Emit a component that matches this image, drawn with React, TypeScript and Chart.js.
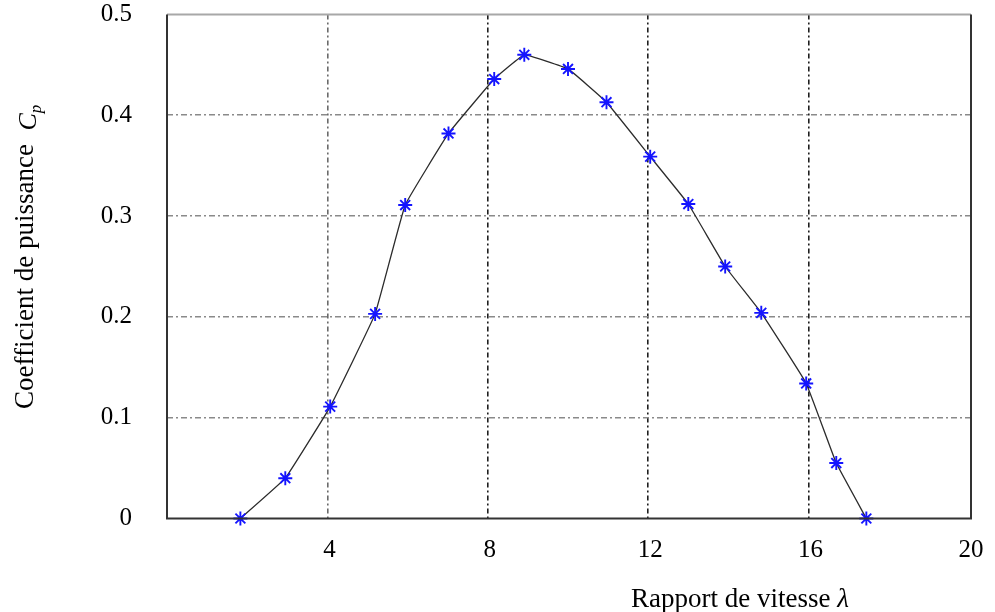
import React, { useEffect, useRef } from 'react';
import { Chart, registerables } from 'chart.js';

Chart.register(...registerables);

// ---- data ----
const lambdaValues = [1.83, 2.95, 4.07, 5.19, 5.94, 7.02, 8.16, 8.91, 10.0, 10.96, 12.05, 13.0, 13.92, 14.82, 15.94, 16.69, 17.44];
const cpValues = [0, 0.04, 0.111, 0.203, 0.311, 0.382, 0.436, 0.46, 0.446, 0.413, 0.359, 0.312, 0.25, 0.204, 0.134, 0.055, 0];

const xTickValues = [4, 8, 12, 16, 20];
const xTickLabels = ['4', '8', '12', '16', '20'];
const yTickValues = [0, 0.1, 0.2, 0.3, 0.4, 0.5];
const yTickLabels = ['0', '0.1', '0.2', '0.3', '0.4', '0.5'];

const xTitleText = 'Rapport de vitesse ';
const xTitleSymbol = 'λ';
const yTitleText = 'Coefficient de puissance  ';
const yTitleSymbol = 'C';
const yTitleSub = 'p';

const FONT = '"Liberation Serif", "Times New Roman", serif';

const decorPlugin = {
  id: 'decor',
  afterDraw(chart: any) {
    const { ctx, chartArea: a } = chart;
    ctx.save();
    // frame
    ctx.lineWidth = 2;
    ctx.strokeStyle = '#a8a8a8';
    ctx.beginPath();
    ctx.moveTo(a.left, a.top);
    ctx.lineTo(a.right, a.top);
    ctx.stroke();
    ctx.strokeStyle = '#333';
    ctx.beginPath();
    ctx.moveTo(a.left, a.top);
    ctx.lineTo(a.left, a.bottom);
    ctx.lineTo(a.right, a.bottom);
    ctx.lineTo(a.right, a.top);
    ctx.stroke();

    // x title
    ctx.fillStyle = '#000';
    ctx.textBaseline = 'alphabetic';
    ctx.textAlign = 'left';
    ctx.font = `27px ${FONT}`;
    const xw = ctx.measureText(xTitleText).width;
    ctx.font = `italic 27px ${FONT}`;
    const lw = ctx.measureText(xTitleSymbol).width;
    const xStart = 740 - (xw + lw) / 2;
    ctx.font = `27px ${FONT}`;
    ctx.fillText(xTitleText, xStart, 607);
    ctx.font = `italic 27px ${FONT}`;
    ctx.fillText(xTitleSymbol, xStart + xw, 607);

    // y title (rotated)
    ctx.translate(33, 409);
    ctx.rotate(-Math.PI / 2);
    ctx.font = `27px ${FONT}`;
    ctx.fillText(yTitleText, 0, 0);
    const yw = ctx.measureText(yTitleText).width;
    ctx.font = `italic 26px ${FONT}`;
    ctx.fillText(yTitleSymbol, yw, 3);
    const cw = ctx.measureText(yTitleSymbol).width;
    ctx.font = `italic 17px ${FONT}`;
    ctx.fillText(yTitleSub, yw + cw, 8);
    ctx.restore();
  },
};

export default function App() {
  const canvasRef = useRef<HTMLCanvasElement | null>(null);

  useEffect(() => {
    document.body.style.margin = '0';
    const canvas = canvasRef.current;
    if (!canvas) return;
    const chart = new Chart(canvas, {
      type: 'scatter',
      data: {
        datasets: [
          {
            data: lambdaValues.map((x, i) => ({ x, y: cpValues[i] })),
            showLine: true,
            borderColor: '#2b2b2b',
            borderWidth: 1.3,
            tension: 0.08,
            pointStyle: 'star',
            pointRadius: 7,
            pointBorderColor: '#1414ff',
            pointBackgroundColor: '#1414ff',
            pointBorderWidth: 1.9,
            clip: false,
          } as any,
        ],
      },
      options: {
        responsive: false,
        animation: false,
        devicePixelRatio: 1,
        layout: { padding: { top: 14.5, right: 24, left: 0, bottom: 0 } },
        plugins: {
          legend: { display: false },
          tooltip: { enabled: false },
        },
        scales: {
          x: {
            type: 'linear',
            min: 0,
            max: 20.05,
            afterBuildTicks: (s: any) => {
              s.ticks = xTickValues.map((v) => ({ value: v }));
            },
            afterFit: (s: any) => {
              s.height = 93.5;
              s.paddingLeft = 0;
              s.paddingRight = 0;
            },
            ticks: {
              callback: (_v: any, i: number) => xTickLabels[i],
              font: { family: FONT, size: 25 },
              color: '#000',
              padding: 17,
              labelOffset: 2,
              maxRotation: 0,
              autoSkip: false,
            },
            grid: {
              drawTicks: false,
              color: (c: any) => {
                const v = c.tick ? c.tick.value : null;
                if (v === 20 || v === 0) return 'rgba(0,0,0,0)';
                return v === 4 ? '#6a6a6a' : '#1e1e1e';
              },
              lineWidth: 1.6,
            },
            border: { display: false, dash: [5, 3, 2, 3] },
          },
          y: {
            type: 'linear',
            min: 0,
            max: 0.5,
            afterBuildTicks: (s: any) => {
              s.ticks = yTickValues.map((v) => ({ value: v }));
            },
            afterFit: (s: any) => {
              s.width = 167;
              s.paddingTop = 0;
              s.paddingBottom = 0;
            },
            ticks: {
              callback: (_v: any, i: number) => yTickLabels[i],
              font: { family: FONT, size: 25 },
              color: '#000',
              padding: 35,
              autoSkip: false,
            },
            grid: {
              drawTicks: false,
              color: (c: any) => {
                const v = c.tick ? c.tick.value : null;
                if (v === 0 || v === 0.5) return 'rgba(0,0,0,0)';
                return '#8a8a8a';
              },
              lineWidth: 1.6,
            },
            border: { display: false, dash: [6, 3, 2, 3] },
          },
        },
      } as any,
      plugins: [decorPlugin],
    });
    return () => chart.destroy();
  }, []);

  return (
    <div style={{ position: 'absolute', left: 0, top: 0, width: 995, height: 612, background: '#fff' }}>
      <canvas ref={canvasRef} width={995} height={612} style={{ display: 'block' }} />
    </div>
  );
}
